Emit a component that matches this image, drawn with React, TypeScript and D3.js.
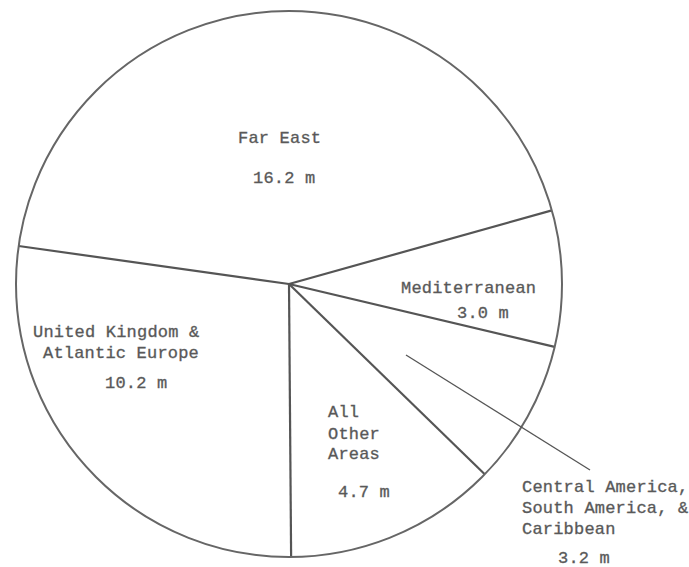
import React from 'react';
import * as d3 from 'd3';

// Regions and values (millions)
const categories = ['Far East', 'Mediterranean', 'Central America', 'All Other Areas', 'United Kingdom & Atlantic Europe'];
const labelLines = [
  ['Far East'],
  ['Mediterranean'],
  ['Central America,', 'South America, &', 'Caribbean'],
  ['All', 'Other', 'Areas'],
  ['United Kingdom &', 'Atlantic Europe'],
];
const values = [16.2, 3.0, 3.2, 4.7, 10.2];

const W = 689;
const H = 567;
const CX = 289;
const CY = 284;
const R = 273;

// typed label placement (left x, centre y of each line, then value line)
const layout = [
  { lines: [[238, 138]], value: [253, 178] },
  { lines: [[401, 288]], value: [457, 313] },
  { lines: [[522, 487], [522, 508], [522, 529]], value: [558, 558] },
  { lines: [[328, 412], [328, 434], [328, 454]], value: [338, 492] },
  { lines: [[33, 332], [43, 353]], value: [105, 383] },
];

const leader = { from: [406, 355], to: [590, 470] };

const font = {
  fontFamily: '"Liberation Mono", "Courier New", monospace',
  fontSize: 17,
  letterSpacing: 0.2,
  fill: '#555',
  stroke: '#666',
  strokeWidth: 0.35,
};

export default function App() {
  const start = (-82 * Math.PI) / 180;
  const pie = d3.pie<number>().sort(null).startAngle(start).endAngle(start + 2 * Math.PI);
  const arcs = pie(values);
  const arc = d3.arc<d3.PieArcDatum<number>>().innerRadius(0).outerRadius(R);

  // boundary radii from the centre
  const spokes = arcs.map((a) => {
    const ang = a.startAngle;
    return [CX + R * Math.sin(ang), CY - R * Math.cos(ang)];
  });

  return (
    <svg width={W} height={H} style={{ position: 'absolute', left: 0, top: 0, background: '#fff' }}>
      <g transform={`translate(${CX},${CY})`}>
        {arcs.map((a, i) => (
          <path key={categories[i]} d={arc(a) || ''} fill="#fff" stroke="none" />
        ))}
      </g>
      {spokes.map((p, i) => (
        <line key={i} x1={CX} y1={CY} x2={p[0]} y2={p[1]} stroke="#555" strokeWidth={2.2} />
      ))}
      <circle cx={CX} cy={CY} r={R} fill="none" stroke="#666" strokeWidth={2} />
      <line
        x1={leader.from[0]}
        y1={leader.from[1]}
        x2={leader.to[0]}
        y2={leader.to[1]}
        stroke="#555"
        strokeWidth={1.3}
      />
      {labelLines.map((lines, i) => (
        <g key={categories[i]}>
          {lines.map((t, j) => (
            <text
              key={j}
              x={layout[i].lines[j][0]}
              y={layout[i].lines[j][1]}
              dominantBaseline="central"
              style={font}
            >
              {t}
            </text>
          ))}
          <text x={layout[i].value[0]} y={layout[i].value[1]} dominantBaseline="central" style={font}>
            {`${values[i].toFixed(1)} m`}
          </text>
        </g>
      ))}
    </svg>
  );
}
